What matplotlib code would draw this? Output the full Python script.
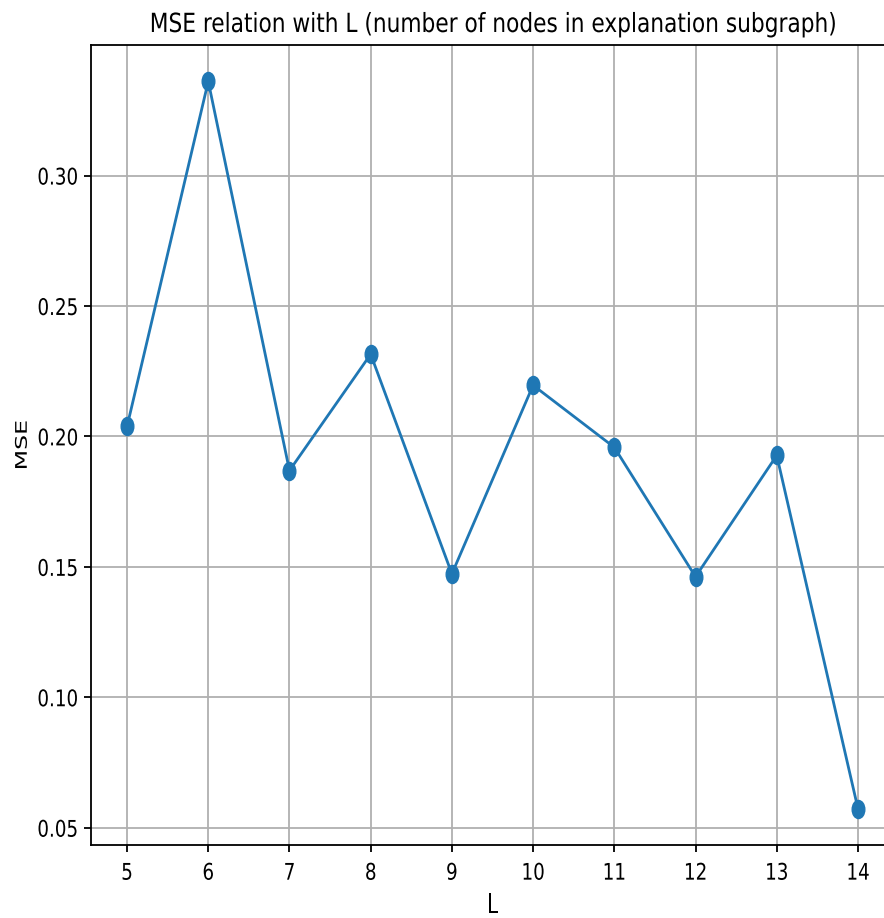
import matplotlib
matplotlib.use("Agg")
import matplotlib.pyplot as plt
from matplotlib.path import Path
from matplotlib.transforms import Affine2D
from matplotlib.patheffects import AbstractPathEffect
from matplotlib.font_manager import findfont, FontProperties

L_values = [5, 6, 7, 8, 9, 10, 11, 12, 13, 14]
mse_values = [0.2038, 0.3361, 0.1869, 0.2315, 0.1473, 0.2196, 0.1958, 0.1462, 0.1927, 0.0573]
y_ticks = [0.05, 0.10, 0.15, 0.20, 0.25, 0.30]
title = 'MSE relation with L (number of nodes in explanation subgraph)'
x_label = 'L'
y_label = 'MSE'

plt.rcParams['font.family'] = ['DejaVu Sans']
has_condensed = 'condensed' in findfont(
    FontProperties(family='DejaVu Sans', stretch='condensed')).lower()
tick_stretch = 'condensed' if has_condensed else 'normal'
tick_sx = 0.80 / 0.9 if has_condensed else 0.80


class Squish(AbstractPathEffect):
    """Rescale the drawn glyphs (text stays a real text artist)."""
    def __init__(self, sx=1.0, sy=1.0, anchor='center', width=None):
        super().__init__()
        self.sx = sx
        self.sy = sy
        self.anchor = anchor
        self.width = width

    def draw_path(self, renderer, gc, tpath, affine, rgbFace=None):
        ext = tpath.get_extents(affine)
        sx = self.sx
        if self.width is not None and ext.width > 0:
            sx = self.width / ext.width
        if self.anchor == 'right':
            cx = ext.x1
        elif self.anchor == 'left':
            cx = ext.x0
        else:
            cx = 0.5 * (ext.x0 + ext.x1)
        cy = 0.5 * (ext.y0 + ext.y1)
        aff = affine + Affine2D().translate(-cx, -cy).scale(sx, self.sy).translate(cx, cy)
        renderer.draw_path(gc, tpath, aff, rgbFace)


W, H = 884, 918
fig = plt.figure(figsize=(W / 100, H / 100), dpi=100)
left, right, top, bottom = 90.5, 894.5, 45, 845
ax = fig.add_axes([left / W, (H - bottom) / H, (right - left) / W, (bottom - top) / H])

ellipse = Path.unit_circle().transformed(Affine2D().scale(0.70, 1.0))
ax.plot(L_values, mse_values, color='#1f77b4', linewidth=2.0,
        marker=ellipse, markersize=13, zorder=3)

ax.set_xticks(L_values)
ax.set_yticks(y_ticks)
ax.grid(True, color='#b0b0b0', linewidth=1.3)
ax.set_axisbelow(True)
for s in ax.spines.values():
    s.set_linewidth(1.3)
ax.tick_params(labelsize=16.5, width=1.3, length=5)
ax.tick_params(axis='x', pad=7)
ax.tick_params(axis='y', pad=3.7)

for tk in ax.yaxis.get_major_ticks():
    tk.label1.set_fontstretch(tick_stretch)
    tk.label1.set_path_effects([Squish(tick_sx, anchor='right')])
for tk in ax.xaxis.get_major_ticks():
    tk.label1.set_fontstretch(tick_stretch)
    tk.label1.set_path_effects([Squish(tick_sx)])

ax.set_xlabel(x_label, fontsize=19.5)
ax.xaxis.label.set_va('baseline')
ax.xaxis.set_label_coords(0.5, (bottom - 913) / (bottom - top))
ax.xaxis.label.set_path_effects([Squish(0.70)])

# small font box, stretched along its length so it does not crowd the ticks
ax.set_ylabel(y_label, fontsize=11)
ax.yaxis.label.set_va('center')
ax.yaxis.set_label_coords((22.0 - left) / (right - left), 0.5)
ax.yaxis.label.set_path_effects([Squish(1.05, 1.55)])

t = ax.set_title(title, fontsize=19, fontstretch='condensed', pad=0,
                 y=1 + (top - 32) / (bottom - top))
t.set_path_effects([Squish(width=683)])

fig.savefig('out.png', dpi=100)
